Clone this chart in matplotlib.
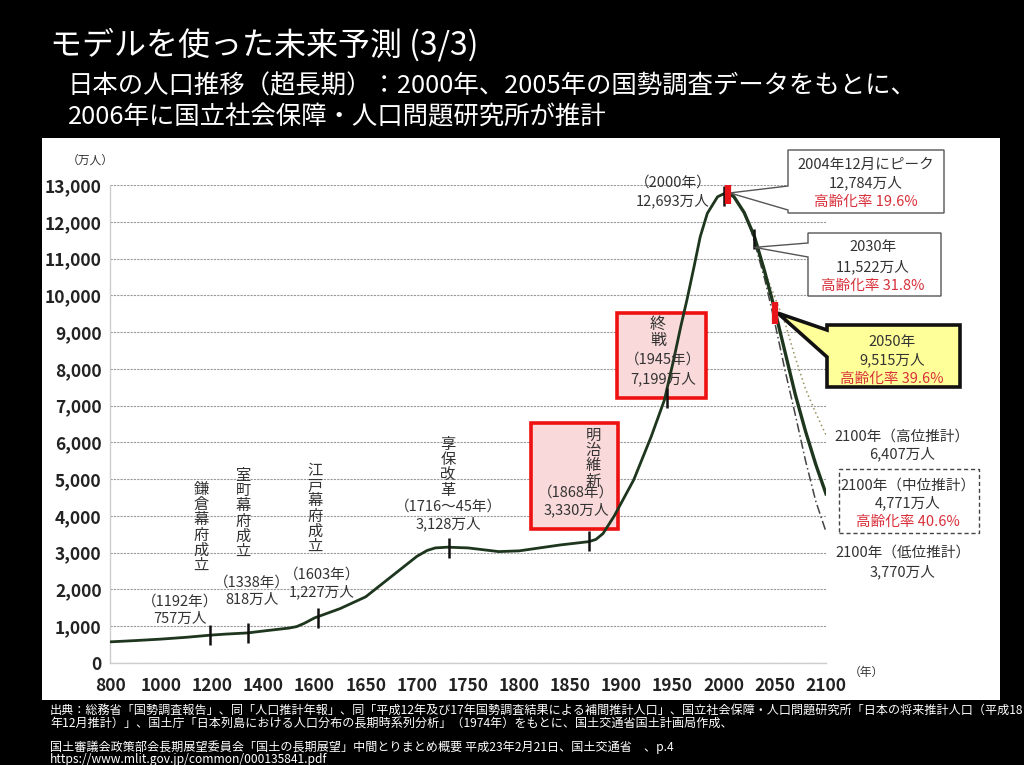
import matplotlib
matplotlib.use("Agg")
import matplotlib.pyplot as plt
import numpy as np
from matplotlib.patches import Rectangle, Polygon

plt.rcParams['font.family'] = ['Noto Sans CJK JP', 'DejaVu Sans']

W, H = 1024, 765

# x axis of the original is uneven: 200-year steps up to 1600, then 50-year steps
tick_years = [800, 1000, 1200, 1400, 1600, 1650, 1700, 1750, 1800, 1850,
              1900, 1950, 2000, 2050, 2100]
y_ticks = list(range(0, 13001, 1000))

# population (万人)
hist_years = [800, 900, 1000, 1100, 1192, 1250, 1338, 1400, 1450, 1500, 1530,
              1560, 1600, 1625, 1650, 1675, 1700, 1710, 1718, 1730, 1750, 1780,
              1800, 1820, 1840, 1868, 1875, 1882, 1893, 1912, 1929, 1942, 1951,
              1958, 1964, 1971, 1977, 1984, 1994, 2000, 2004]
hist_pop = [575, 610, 650, 700, 757, 785, 818, 870, 910, 950, 990,
            1080, 1227, 1480, 1800, 2350, 2900, 3060, 3130, 3150, 3130, 3030,
            3050, 3130, 3210, 3300, 3360, 3520, 4000, 4980, 6150, 7150, 8240,
            9150, 9870, 10780, 11590, 12230, 12680, 12760, 12784]

mid_years = [2004, 2010, 2020, 2030, 2040, 2050, 2060, 2070, 2080, 2090, 2100]
mid_pop = [12784, 12680, 12250, 11600, 10650, 9600, 8450, 7300, 6300, 5400, 4600]

high_years = [2026, 2030, 2040, 2050, 2060, 2070, 2080, 2090, 2100]
high_pop = [11870, 11620, 10650, 9940, 9240, 8300, 7450, 6800, 6200]

low_years = [2026, 2030, 2040, 2050, 2060, 2070, 2080, 2090, 2100]
low_pop = [11850, 11450, 10450, 9250, 7950, 6750, 5500, 4400, 3570]

# marked events
event_years = [1192, 1338, 1603, 1731, 1868, 1945, 2000, 2030]
event_pop = [757, 818, 1227, 3128, 3330, 7199, 12693, 11522]
red_years = [2004, 2050]
red_pop = [12784, 9515]


def fx(px, py):
    # pixel position (top-left origin) -> figure fraction
    return px / W, 1 - py / H


fig = plt.figure(figsize=(W / 100, H / 100), dpi=100)
fig.patch.set_facecolor('black')

# white chart panel
fig.add_artist(Rectangle(fx(42, 700), 958 / W, 562 / H, transform=fig.transFigure,
                         facecolor='white', edgecolor='none', zorder=-1))

ax = fig.add_axes([110 / W, (H - 663) / H, 716 / W, 478 / H])
ax.set_facecolor('none')

idx = np.arange(len(tick_years))
ax.set_xscale('function', functions=(lambda x: np.interp(x, tick_years, idx),
                                     lambda x: np.interp(x, idx, tick_years)))
ax.set_xlim(800, 2100)
ax.set_ylim(0, 13000)
ax.set_xticks(tick_years)
ax.set_xticklabels([str(t) for t in tick_years])
ax.set_yticks(y_ticks)
ax.set_yticklabels(['0'] + ['{:,}'.format(v) for v in y_ticks[1:]])
ax.tick_params(length=0, labelsize=12.5, labelcolor='#222222')
ax.tick_params(axis='y', pad=6)
ax.tick_params(axis='x', pad=10)
for lab in ax.get_xticklabels() + ax.get_yticklabels():
    lab.set_fontweight('bold')
ax.yaxis.grid(True, color='#9a9a9a', linestyle=(0, (2, 1)), linewidth=0.8)
ax.set_axisbelow(True)
for s in ['top', 'right']:
    ax.spines[s].set_visible(False)
for s in ['left', 'bottom']:
    ax.spines[s].set_color('#cccccc')
    ax.spines[s].set_linewidth(1)

tf = fig.transFigure

# red highlight boxes
for l, t, r, b in [(531, 423, 618, 529), (617, 313, 706, 398)]:
    ax.add_patch(Rectangle(fx(l, b), (r - l) / W, (b - t) / H, transform=tf,
                           facecolor='#f9d9d9', edgecolor='#ee1111', linewidth=2.6,
                           clip_on=False, zorder=1.5))

green = '#1d361d'
ax.plot(hist_years, hist_pop, color=green, linewidth=2.0, zorder=3)
ax.plot(mid_years, mid_pop, color=green, linewidth=2.4, zorder=3)
ax.plot(high_years, high_pop, color='#98905c', linewidth=1.1, linestyle=(0, (1, 2)), zorder=2.5)
ax.plot(low_years, low_pop, color='#444444', linewidth=1.1, linestyle=(0, (6, 2, 1, 2)), zorder=2.5)

ax.plot(event_years, event_pop, linestyle='none', marker='|', markersize=15,
        markeredgewidth=1.8, color='#111111', zorder=4)
ax.plot(red_years, red_pop, linestyle='none', marker='|', markersize=16,
        markeredgewidth=4.5, color='#e8141a', zorder=6)

# callout boxes pointing at data
inv = fig.transFigure.inverted()


def tip_of(year, val, dx=0, dy=0):
    x, y = inv.transform(ax.transData.transform((year, val)))
    return x + dx / W, y - dy / H


def callout(box, y1, y2, tip, face, lw, ec):
    l, t, r, b = box
    pts = [fx(l, t), fx(r, t), fx(r, b), fx(l, b), fx(l, y2), tip, fx(l, y1)]
    ax.add_patch(Polygon(pts, closed=True, transform=tf, facecolor=face,
                         edgecolor=ec, linewidth=lw, clip_on=False, zorder=5))


callout((788, 150, 944, 213), 186, 210, tip_of(2004, 12784, 2, 0), 'white', 1.0, '#555555')
callout((808, 233, 941, 296), 243, 257, tip_of(2030, 11522, 0, 8), 'white', 1.0, '#555555')
callout((827, 325, 960, 387), 330, 357, tip_of(2050, 9515, 3, 0), '#ffff99', 2.6, '#111111')

ax.add_patch(Rectangle(fx(839, 533), 140 / W, 64 / H, transform=tf, facecolor='none',
                       edgecolor='#444444', linewidth=1.0, linestyle=(0, (3, 2)),
                       clip_on=False, zorder=5))

dark = '#333333'
red = '#d8303a'


def ctext(px, py, s, size=10.5, color=dark, **kw):
    fig.text(px / W, 1 - py / H, s, fontsize=size, color=color, ha='center',
             va='center', zorder=7, **kw)


def vtext(px, py_top, s, size=11, spacing=0.86):
    fig.text(px / W, 1 - py_top / H, '\n'.join(s), fontsize=size, color=dark,
             ha='center', va='top', linespacing=spacing, zorder=7)


# historical annotations
vtext(201, 481, '鎌倉幕府成立')
ctext(180, 602, '（1192年）')
ctext(180, 619, '757万人')
vtext(243, 467, '室町幕府成立')
ctext(252, 583, '（1338年）')
ctext(252, 600, '818万人')
vtext(315, 462, '江戸幕府成立')
ctext(322, 575, '（1603年）')
ctext(322, 592, '1,227万人')
vtext(448, 436, '享保改革')
ctext(448, 507, '（1716～45年）')
ctext(448, 524, '3,128万人')
vtext(593, 427, '明治維新')
ctext(576, 493, '（1868年）')
ctext(576, 510, '3,330万人')
vtext(658, 316, '終戦', size=11.5, spacing=0.95)
ctext(663, 360, '（1945年）')
ctext(663, 379, '7,199万人')
ctext(673, 183, '（2000年）')
ctext(673, 201, '12,693万人')

# projection annotations
ctext(866, 165, '2004年12月にピーク')
ctext(866, 183, '12,784万人')
ctext(866, 202, '高齢化率 19.6%', color=red)
ctext(873, 247, '2030年')
ctext(873, 267, '11,522万人')
ctext(873, 286, '高齢化率 31.8%', color=red)
ctext(892, 342, '2050年')
ctext(892, 360, '9,515万人')
ctext(892, 379, '高齢化率 39.6%', color=red)
ctext(902, 437, '2100年（高位推計）')
ctext(902, 454, '6,407万人')
ctext(908, 486, '2100年（中位推計）')
ctext(908, 503, '4,771万人')
ctext(908, 522, '高齢化率 40.6%', color=red)
ctext(903, 553, '2100年（低位推計）')
ctext(903, 572, '3,770万人')

ctext(90, 160, '（万人）', size=8.5)
ctext(866, 672, '（年）', size=8.5)

# slide title and notes
fig.text(50 / W, 1 - 45 / H, 'モデルを使った未来予測 (3/3)', color='white',
         fontsize=23, va='center', ha='left')
fig.text(68 / W, 1 - 86 / H, '日本の人口推移（超長期）：2000年、2005年の国勢調査データをもとに、',
         color='white', fontsize=18.3, va='center', ha='left')
fig.text(68 / W, 1 - 117 / H, '2006年に国立社会保障・人口問題研究所が推計',
         color='white', fontsize=18.3, va='center', ha='left')

notes = [
    (710, '出典：総務省「国勢調査報告」、同「人口推計年報」、同「平成12年及び17年国勢調査結果による補間推計人口」、国立社会保障・人口問題研究所「日本の将来推計人口（平成18'),
    (723, '年12月推計）」、国土庁「日本列島における人口分布の長期時系列分析」（1974年）をもとに、国土交通省国土計画局作成、'),
    (747, '国土審議会政策部会長期展望委員会「国土の長期展望」中間とりまとめ概要 平成23年2月21日、国土交通省　、p.4'),
    (759, 'https://www.mlit.gov.jp/common/000135841.pdf'),
]
for py, s in notes:
    fig.text(50 / W, 1 - py / H, s, color='white', fontsize=8.7, va='center', ha='left')

fig.savefig('out.png', dpi=100, facecolor=fig.get_facecolor())
